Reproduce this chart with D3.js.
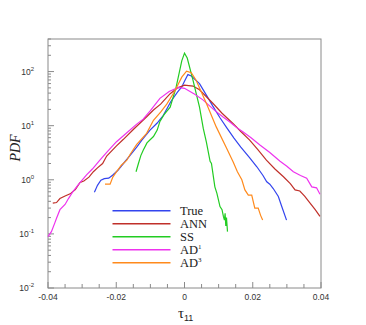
<!DOCTYPE html>
<html>
<head>
<meta charset="utf-8">
<script src="https://cdn.jsdelivr.net/npm/d3@7"></script>
<style>
  body { margin: 0; background: #fff; }
</style>
</head>
<body>
<div id="chart"></div>
<script>
// series: [tau11, PDF] pairs
var trueData = [[-0.0264,0.59],[-0.0255,0.79],[-0.0245,0.98],[-0.0235,1.05],[-0.0222,1.07],[-0.0210,1.23],
  [-0.0195,1.5],[-0.0179,2.0],[-0.0160,2.8],[-0.0140,4.0],[-0.0125,5.4],[-0.0101,8.3],[-0.0080,11.2],
  [-0.0062,15.5],[-0.0040,28],[-0.0020,42],[-0.0008,52],[0.0000,66],[0.0010,88],[0.0020,83],[0.0044,60],
  [0.0065,36],[0.0083,23],[0.0104,14],[0.0124,9.1],[0.0145,5.9],[0.0165,4.0],[0.0190,2.6],[0.0212,1.74],
  [0.0230,1.2],[0.0241,0.92],[0.0250,0.83],[0.0260,0.69],[0.0275,0.49],[0.0285,0.32],[0.0299,0.18]]

var annData = [[-0.0386,0.37],[-0.0375,0.38],[-0.0365,0.45],[-0.0350,0.50],[-0.0335,0.55],[-0.0320,0.66],
  [-0.0306,0.89],[-0.0295,0.95],[-0.0280,1.12],[-0.0267,1.41],[-0.0255,1.66],[-0.0240,2.0],[-0.0228,2.75],
  [-0.0200,4.2],[-0.0179,5.6],[-0.0150,8.5],[-0.0130,11.2],[-0.0110,14.8],[-0.0091,19.5],[-0.0070,25],
  [-0.0042,39],[-0.0020,50],[0.0000,56],[0.0025,54],[0.0044,46],[0.0083,26],[0.0110,17],[0.0142,11],
  [0.0165,7.8],[0.0191,5.4],[0.0215,3.6],[0.0240,2.3],[0.0265,1.58],[0.0290,1.14],[0.0310,0.85],
  [0.0324,0.65],[0.0338,0.62],[0.0352,0.5],[0.0368,0.37],[0.0383,0.28],[0.0397,0.21]]

var ssData = [[-0.0142,1.41],[-0.0135,2.0],[-0.0128,2.8],[-0.0121,3.5],[-0.0110,4.8],[-0.0091,6.3],
  [-0.0080,8.3],[-0.0072,12],[-0.0060,16],[-0.0042,22],[-0.0025,50],[-0.0008,158],[0.0000,219],
  [0.0008,178],[0.0025,69],[0.0044,22],[0.0055,8.9],[0.0064,5.0],[0.0075,2.2],[0.0079,2.0],[0.0089,0.74],
  [0.0095,0.56],[0.0104,0.32],[0.0110,0.28],[0.0114,0.21],[0.0117,0.18],[0.0119,0.24],[0.0121,0.14],
  [0.0123,0.2],[0.0126,0.11]]

var ad1Data = [[-0.0400,0.089],[-0.0390,0.11],[-0.0380,0.16],[-0.0375,0.195],[-0.0365,0.28],[-0.0350,0.35],
  [-0.0340,0.45],[-0.0328,0.59],[-0.0310,0.83],[-0.0287,1.23],[-0.0270,1.58],[-0.0248,2.3],[-0.0228,3.2],
  [-0.0200,5.0],[-0.0169,7.4],[-0.0140,10.7],[-0.0121,13.2],[-0.0100,19],[-0.0072,32],[-0.0045,43],
  [-0.0018,51],[0.0000,49],[0.0030,38],[0.0054,30],[0.0085,20],[0.0113,14.5],[0.0133,11.7],[0.0150,9.5],
  [0.0171,7.7],[0.0195,6.0],[0.0221,4.4],[0.0250,3.2],[0.0280,2.2],[0.0300,1.78],[0.0319,1.41],
  [0.0340,1.2],[0.0358,1.07],[0.0373,0.74],[0.0387,0.71],[0.0397,0.54]]

var ad3Data = [[-0.0233,0.83],[-0.0218,0.83],[-0.0210,1.12],[-0.0199,1.41],[-0.0185,1.86],[-0.0169,2.3],
  [-0.0160,2.9],[-0.0140,4.5],[-0.0111,7.2],[-0.0091,12.6],[-0.0070,17.8],[-0.0052,25],[-0.0030,42],
  [-0.0008,79],[0.0006,102],[0.0020,95],[0.0034,69],[0.0064,26],[0.0093,9.5],[0.0122,4.0],[0.0143,2.1],
  [0.0155,1.41],[0.0168,1.0],[0.0177,0.65],[0.0187,0.52],[0.0197,0.52],[0.0206,0.30],[0.0216,0.30],
  [0.0223,0.22],[0.0229,0.18]]

var seriesNames = ["True", "ANN", "SS", "AD", "AD"]
var seriesSups  = ["", "", "", "1", "3"]
var seriesColors = ["#3344ee", "#c0302a", "#22cc22", "#ee33ee", "#ff8a1c"]
var allSeries = [trueData, annData, ssData, ad1Data, ad3Data]

var xTicks = [-0.04, -0.02, 0, 0.02, 0.04]
var xTickLabels = ["-0.04", "-0.02", "0", "0.02", "0.04"]
var yExponents = [-2, -1, 0, 1, 2]

var W = 366, H = 325
var pLeft = 48, pRight = 321, pTop = 39, pBottom = 288

var svg = d3.select("#chart").append("svg")
  .attr("width", W)
  .attr("height", H)

var x = d3.scaleLinear().domain([-0.04, 0.04]).range([pLeft, pRight])
var y = d3.scaleLog().domain([0.01, 400]).range([pBottom, pTop])

var frameColor = "#8a8a8a"

// minor x ticks every 0.005, pointing up into the plot
var xMinor = d3.range(-0.04, 0.0401, 0.005)
svg.append("g").selectAll("line")
  .data(xMinor)
  .enter().append("line")
  .attr("x1", function(d){ return x(d) })
  .attr("x2", function(d){ return x(d) })
  .attr("y1", pBottom)
  .attr("y2", function(d){ return Math.abs(Math.round(d*1000) % 20) == 0 ? pBottom - 6 : pBottom - 4 })
  .attr("stroke", frameColor)
  .attr("stroke-width", 1)

svg.append("g").selectAll("text")
  .data(xTicks)
  .enter().append("text")
  .attr("x", function(d){ return x(d) })
  .attr("y", pBottom + 12)
  .attr("text-anchor", "middle")
  .attr("font-family", "Liberation Sans, Arial, sans-serif")
  .attr("font-size", 8.5)
  .attr("fill", "#333")
  .text(function(d,i){ return xTickLabels[i] })

// y ticks: decades plus minor 2..9
var yTickVals = []
yExponents.forEach(function(e){
  for (var m = 1; m <= 9; m++) {
    var v = m * Math.pow(10, e)
    if (v <= 400) yTickVals.push({v: v, major: m == 1})
  }
})
svg.append("g").selectAll("line")
  .data(yTickVals)
  .enter().append("line")
  .attr("x1", pLeft)
  .attr("x2", function(d){ return d.major ? pLeft + 6 : pLeft + 3 })
  .attr("y1", function(d){ return y(d.v) })
  .attr("y2", function(d){ return y(d.v) })
  .attr("stroke", frameColor)
  .attr("stroke-width", 1)

var yLab = svg.append("g").selectAll("text")
  .data(yExponents)
  .enter().append("text")
  .attr("x", 34)
  .attr("y", function(d){ return y(Math.pow(10, d)) + 3 })
  .attr("font-family", "Liberation Sans, Arial, sans-serif")
  .attr("font-size", 8.5)
  .attr("fill", "#333")
  .attr("text-anchor", "end")
yLab.append("tspan").text("10")
yLab.append("tspan")
  .attr("dy", -4)
  .attr("font-size", 6)
  .text(function(d){ return d })

// frame
svg.append("rect")
  .attr("x", pLeft)
  .attr("y", pTop)
  .attr("width", pRight - pLeft)
  .attr("height", pBottom - pTop)
  .attr("fill", "none")
  .attr("stroke", frameColor)
  .attr("stroke-width", 1)

// curves
var line = d3.line()
  .x(function(d){ return x(d[0]) })
  .y(function(d){ return y(d[1]) })

svg.append("g").selectAll("path")
  .data(allSeries)
  .enter().append("path")
  .attr("d", line)
  .attr("fill", "none")
  .attr("stroke", function(d,i){ return seriesColors[i] })
  .attr("stroke-width", 1.2)

// legend
var legend = svg.append("g").selectAll("g")
  .data(seriesNames)
  .enter().append("g")
  .attr("transform", function(d,i){ return "translate(0," + (210.7 + i*13) + ")" })
legend.append("line")
  .attr("x1", 112.5).attr("x2", 170.5)
  .attr("y1", 0).attr("y2", 0)
  .attr("stroke", function(d,i){ return seriesColors[i] })
  .attr("stroke-width", 1.6)
var legText = legend.append("text")
  .attr("x", 180)
  .attr("y", 4.5)
  .attr("font-family", "Liberation Serif, Times New Roman, serif")
  .attr("font-size", 12.5)
  .attr("fill", "#222")
legText.append("tspan").text(function(d){ return d })
legText.append("tspan")
  .attr("dy", -5)
  .attr("font-size", 7)
  .text(function(d,i){ return seriesSups[i] })

// axis titles
svg.append("text")
  .attr("transform", "translate(20,148) rotate(-90)")
  .attr("text-anchor", "middle")
  .attr("font-family", "Liberation Serif, Times New Roman, serif")
  .attr("font-style", "italic")
  .attr("font-size", 14)
  .attr("fill", "#222")
  .text("PDF")

var xt = svg.append("text")
  .attr("x", 178)
  .attr("y", 318)
  .attr("font-family", "Liberation Serif, Times New Roman, serif")
  .attr("font-size", 15)
  .attr("fill", "#222")
xt.append("tspan").text("τ")
xt.append("tspan")
  .attr("dy", 3)
  .attr("font-size", 9)
  .attr("font-family", "Liberation Sans, Arial, sans-serif")
  .text("11")
</script>
</body>
</html>
